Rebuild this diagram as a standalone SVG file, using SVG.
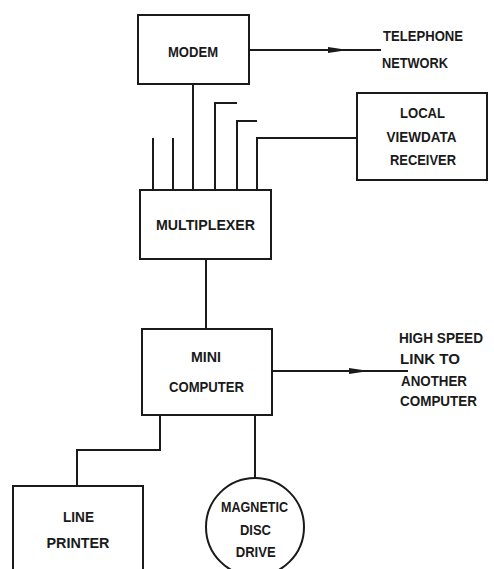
<svg xmlns="http://www.w3.org/2000/svg" width="494" height="569" viewBox="0 0 494 569">
<style>
.box{fill:#fff;stroke:#1a1a1a;stroke-width:2}
.ln{fill:none;stroke:#1a1a1a;stroke-width:2}
text{font-family:"Liberation Sans",Arial,sans-serif;font-weight:bold;font-size:15.5px;fill:#1a1a1a}
.c{text-anchor:middle}
</style>
<defs>
<marker id="ah" viewBox="0 0 20 10" refX="20" refY="5" markerWidth="20" markerHeight="10" markerUnits="userSpaceOnUse" orient="auto">
<path d="M0,2 L20,5 L0,8 Z" fill="#1a1a1a"/>
</marker>
</defs>
<rect width="494" height="569" fill="#fff"/>
<g id="connectors">
<path class="ln" d="M249,50 L348,50 L381,50" marker-mid="url(#ah)"/>
<path class="ln" d="M272,371 L369,371 L408,371" marker-mid="url(#ah)"/>
<path class="ln" d="M153,138 V190"/>
<path class="ln" d="M173,138 V190"/>
<path class="ln" d="M193,84 V190"/>
<path class="ln" d="M237,103 H215 V190"/>
<path class="ln" d="M257,121 H237 V190"/>
<path class="ln" d="M357,138 H257 V190"/>
<path class="ln" d="M206,259 V329"/>
<path class="ln" d="M160,415 V450 H77 V486"/>
<path class="ln" d="M255,415 V478"/>
</g>
<g id="modem">
<rect class="box" x="138" y="15" width="111" height="69"/>
<text class="c" x="193" y="57" textLength="50" lengthAdjust="spacingAndGlyphs">MODEM</text>
</g>
<g id="telephone-network">
<text x="383" y="41" textLength="80" lengthAdjust="spacingAndGlyphs">TELEPHONE</text>
<text x="382" y="68" textLength="66" lengthAdjust="spacingAndGlyphs">NETWORK</text>
</g>
<g id="local-viewdata-receiver">
<rect class="box" x="357" y="93" width="130" height="87"/>
<text class="c" x="422.5" y="118" textLength="45" lengthAdjust="spacingAndGlyphs">LOCAL</text>
<text class="c" x="421.5" y="142" textLength="70" lengthAdjust="spacingAndGlyphs">VIEWDATA</text>
<text class="c" x="423" y="165" textLength="66" lengthAdjust="spacingAndGlyphs">RECEIVER</text>
</g>
<g id="multiplexer">
<rect class="box" x="140" y="190" width="131" height="69"/>
<text class="c" x="205.5" y="230" textLength="99" lengthAdjust="spacingAndGlyphs">MULTIPLEXER</text>
</g>
<g id="mini-computer">
<rect class="box" x="142" y="329" width="130" height="86"/>
<text class="c" x="206" y="362" textLength="30" lengthAdjust="spacingAndGlyphs">MINI</text>
<text class="c" x="206.5" y="392" textLength="75" lengthAdjust="spacingAndGlyphs">COMPUTER</text>
</g>
<g id="high-speed-link">
<text x="399" y="343" textLength="84" lengthAdjust="spacingAndGlyphs">HIGH SPEED</text>
<text x="400" y="364" textLength="60" lengthAdjust="spacingAndGlyphs">LINK TO</text>
<text x="401" y="386" textLength="66" lengthAdjust="spacingAndGlyphs">ANOTHER</text>
<text x="400" y="406" textLength="77" lengthAdjust="spacingAndGlyphs">COMPUTER</text>
</g>
<g id="line-printer">
<rect class="box" x="13" y="486" width="130" height="100"/>
<text class="c" x="78.5" y="522" textLength="31" lengthAdjust="spacingAndGlyphs">LINE</text>
<text class="c" x="78" y="548" textLength="63" lengthAdjust="spacingAndGlyphs">PRINTER</text>
</g>
<g id="magnetic-disc-drive">
<circle class="box" cx="255" cy="527" r="49"/>
<text class="c" x="254.5" y="512" textLength="67" lengthAdjust="spacingAndGlyphs">MAGNETIC</text>
<text class="c" x="255.5" y="535" textLength="31" lengthAdjust="spacingAndGlyphs">DISC</text>
<text class="c" x="255.7" y="557" textLength="40" lengthAdjust="spacingAndGlyphs">DRIVE</text>
</g>
</svg>
